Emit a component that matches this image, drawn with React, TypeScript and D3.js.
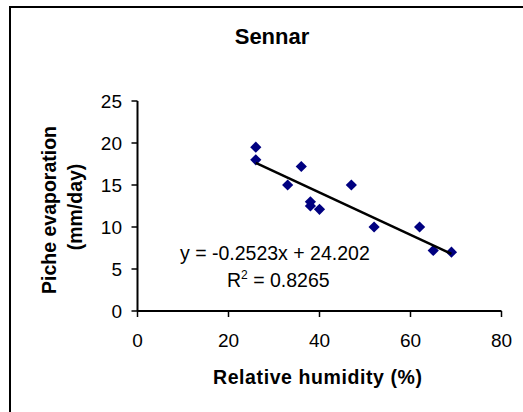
import React from "react";
import * as d3 from "d3";

const humidity = [26, 26, 33, 36, 38, 38, 40, 47, 52, 62, 65, 69];
const evaporation = [19.5, 18.0, 15.0, 17.2, 13.0, 12.5, 12.1, 15.0, 10.0, 10.0, 7.2, 7.0];
const xTicks = [0, 20, 40, 60, 80];
const yTicks = [0, 5, 10, 15, 20, 25];
const slope = -0.2523;
const intercept = 24.202;
const r2 = 0.8265;
const title = "Sennar";
const xLabel = "Relative humidity (%)";
const yLabel1 = "Piche evaporation";
const yLabel2 = "(mm/day)";

const W = 523;
const H = 412;
const FONT = "'Liberation Sans', Arial, sans-serif";

export default function App() {
  const x = d3.scaleLinear().domain([0, 80]).range([137.5, 501.5]);
  const y = d3.scaleLinear().domain([0, 25]).range([311, 101]);
  const pts = humidity.map((h, i) => ({ h, e: evaporation[i] }));
  const xMin = d3.min(humidity) as number;
  const xMax = d3.max(humidity) as number;
  const line = d3
    .line<number>()
    .x((d) => x(d))
    .y((d) => y(slope * d + intercept));
  const diamond = d3.symbol().type(d3.symbolDiamond2).size(80)();
  const eqText = `y = ${slope}x + ${intercept.toFixed(3)}`;

  return (
    <svg
      width={W}
      height={H}
      style={{ position: "absolute", left: 0, top: 0, background: "#fff" }}
      fontFamily={FONT}
    >
      <rect x={0} y={0} width={W} height={H} fill="#fff" />
      <rect x={10} y={7} width={W + 20} height={H + 20} fill="none" stroke="#000" strokeWidth={2} />
      <text x={272} y={44} textAnchor="middle" fontSize={22} fontWeight="bold">
        {title}
      </text>

      {/* axes */}
      <line x1={x(0)} x2={x(0)} y1={y(25)} y2={y(0)} stroke="#000" strokeWidth={2} />
      <line x1={x(0)} x2={x(80)} y1={y(0)} y2={y(0)} stroke="#000" strokeWidth={2} />
      {yTicks.map((t) => (
        <g key={"y" + t}>
          <line x1={x(0) - 6} x2={x(0)} y1={y(t)} y2={y(t)} stroke="#000" strokeWidth={1.5} />
          <text x={122} y={y(t)} dy="0.35em" textAnchor="end" fontSize={19}>
            {t}
          </text>
        </g>
      ))}
      {xTicks.map((t) => (
        <g key={"x" + t}>
          <line x1={x(t)} x2={x(t)} y1={y(0)} y2={y(0) + 6} stroke="#000" strokeWidth={1.5} />
          <text x={x(t)} y={347} textAnchor="middle" fontSize={19}>
            {t}
          </text>
        </g>
      ))}

      {/* axis labels */}
      <text x={317.5} y={384} textAnchor="middle" fontSize={19.5} fontWeight="bold" textLength={209}>
        {xLabel}
      </text>
      <text transform="translate(56,210) rotate(-90)" textAnchor="middle" fontSize={19.5} fontWeight="bold">
        {yLabel1}
      </text>
      <text transform="translate(82,207) rotate(-90)" textAnchor="middle" fontSize={19.5} fontWeight="bold">
        {yLabel2}
      </text>

      {/* points */}
      {pts.map((p, i) => (
        <path key={i} d={diamond || ""} transform={`translate(${x(p.h)},${y(p.e)})`} fill="#000080" />
      ))}

      {/* trendline */}
      <path d={line([xMin, xMax]) || ""} fill="none" stroke="#000" strokeWidth={2.5} />

      <text x={180} y={260} fontSize={19.5}>
        {eqText}
      </text>
      <text x={227} y={287} fontSize={19.5}>
        R<tspan dy={-8} fontSize={12}>2</tspan>
        <tspan dy={8}> = {r2}</tspan>
      </text>
    </svg>
  );
}
